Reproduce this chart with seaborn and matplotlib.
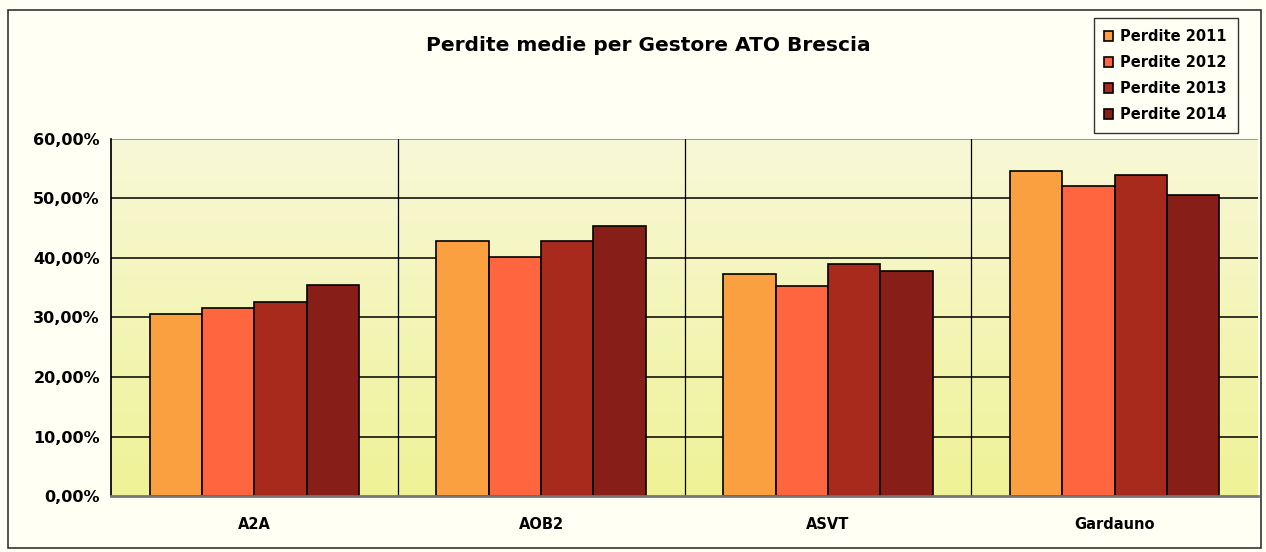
import numpy as np
import pandas as pd
import matplotlib.pyplot as plt
from matplotlib.colors import LinearSegmentedColormap
from matplotlib.patches import Rectangle
from matplotlib.ticker import FuncFormatter
import seaborn as sns

gestori = ["A2A", "AOB2", "ASVT", "Gardauno"]
serie = ["Perdite 2011", "Perdite 2012", "Perdite 2013", "Perdite 2014"]
perdite_2011 = [30.5, 42.8, 37.3, 54.6]
perdite_2012 = [31.5, 40.2, 35.3, 52.0]
perdite_2013 = [32.6, 42.8, 38.9, 53.9]
perdite_2014 = [35.4, 45.4, 37.8, 50.6]
colori = ["#FBA040", "#FF6640", "#A72A1D", "#871E17"]

df = pd.DataFrame({
    "Gestore": gestori * 4,
    "Serie": np.repeat(serie, len(gestori)),
    "Valore": perdite_2011 + perdite_2012 + perdite_2013 + perdite_2014,
})

sns.set_theme(style="white")
plt.rcParams["font.family"] = ["DejaVu Sans"]
plt.rcParams.update({"text.color": "black", "xtick.color": "black",
                     "ytick.color": "black", "axes.labelcolor": "black"})

fig = plt.figure(figsize=(12.66, 5.52), dpi=100, facecolor="#FFFFF4")
fig.patches.append(Rectangle((0.006, 0.007), 0.99, 0.975, transform=fig.transFigure,
                             fill=False, edgecolor="#333333", linewidth=1.2))
ax = fig.add_axes([0.0877, 0.101, 0.906, 0.648])

# gradient background of the plot area
grad = LinearSegmentedColormap.from_list("bg", ["#EFF296", "#F8F8D8"])
ax.imshow(np.linspace(0, 1, 256).reshape(-1, 1), cmap=grad, origin="lower",
          extent=[-0.5, 3.5, 0, 60], aspect="auto", zorder=0)

sns.barplot(data=df, x="Gestore", y="Valore", hue="Serie", palette=colori,
            width=0.73, edgecolor="black", linewidth=1.2, saturation=1,
            ax=ax, zorder=3)

ax.set_xlim(-0.5, 3.5)
ax.set_ylim(0, 60)
ax.set_yticks(np.arange(0, 61, 10))
ax.yaxis.set_major_formatter(FuncFormatter(lambda v, p: f"{v:.2f}%".replace(".", ",")))
for y in range(10, 60, 10):
    ax.axhline(y, color="black", linewidth=1.1, zorder=1)
ax.axhline(60, color="#888888", linewidth=1.2, zorder=1)
for x in [0.5, 1.5, 2.5]:
    ax.axvline(x, color="black", linewidth=0.9, zorder=1)

ax.set_xticks([0, 1, 2, 3], gestori, fontsize=10.5, fontweight="bold")
ax.set_xticks([-0.5, 0.5, 1.5, 2.5, 3.5], minor=True)
ax.tick_params(axis="x", which="major", length=0, pad=15)
ax.tick_params(axis="x", which="minor", length=5, width=1, color="black", direction="out")
ax.tick_params(axis="y", length=6, width=1, color="black", direction="out", labelsize=11.5, pad=2)
for lab in ax.get_yticklabels():
    lab.set_fontweight("bold")
ax.set_xlabel("")
ax.set_ylabel("")

for s in ["top", "right"]:
    ax.spines[s].set_visible(False)
ax.spines["left"].set_color("black")
ax.spines["bottom"].set_color("#777777")
ax.spines["bottom"].set_linewidth(2)
ax.spines["bottom"].set_zorder(4)

fig.text(0.512, 0.918, "Perdite medie per Gestore ATO Brescia", ha="center", va="center",
         fontsize=14.5, fontweight="bold")

handles, labels = ax.get_legend_handles_labels()
ax.get_legend().remove()
leg = fig.legend(handles, labels, loc="upper left", bbox_to_anchor=(0.858, 0.98),
                 fontsize=10.5, frameon=True, fancybox=False, edgecolor="black",
                 facecolor="#FFFFF4", handlelength=0.6, handleheight=0.6,
                 handletextpad=0.5, labelspacing=0.75, borderpad=0.75)
for t in leg.get_texts():
    t.set_fontweight("bold")
leg.get_frame().set_linewidth(1)

fig.savefig("out.png", dpi=100, facecolor=fig.get_facecolor())
